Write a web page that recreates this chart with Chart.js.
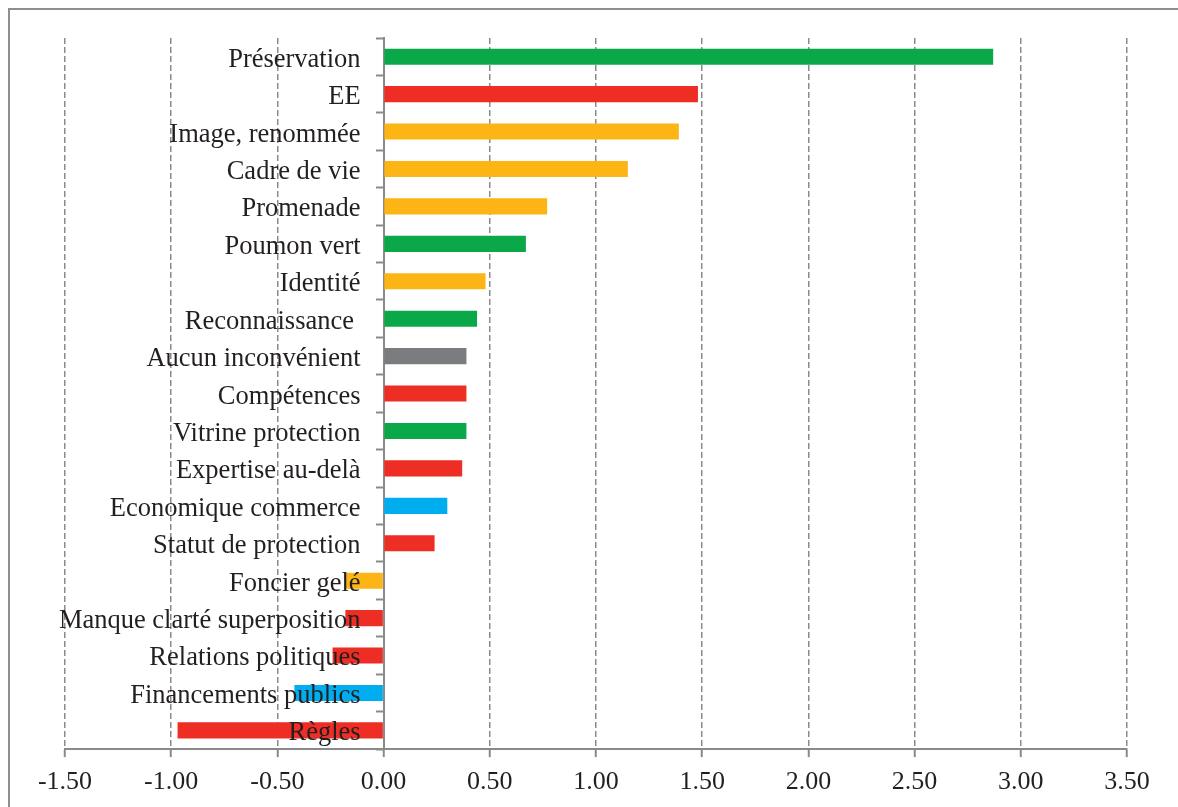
<!DOCTYPE html>
<html>
<head>
<meta charset="utf-8">
<script src="https://cdn.jsdelivr.net/npm/chart.js@4/dist/chart.umd.min.js"></script>
<style>
  html, body { margin: 0; padding: 0; background: #fff; overflow: hidden; }
  #wrap { position: relative; width: 1178px; height: 807px; }
  #frame { position: absolute; left: 8px; top: 8px; width: 1200px; height: 900px; border: 2px solid #8e8e8e; box-sizing: border-box; }
  canvas { position: absolute; left: 0; top: 0; }
</style>
</head>
<body>
<div id="wrap">
  <div id="frame"></div>
  <canvas id="chart" width="1178" height="807"></canvas>
</div>
<script>
const categories = [
  'Préservation', 'EE', 'Image, renommée', 'Cadre de vie', 'Promenade',
  'Poumon vert', 'Identité', 'Reconnaissance ', 'Aucun inconvénient', 'Compétences',
  'Vitrine protection', 'Expertise au-delà', 'Economique commerce', 'Statut de protection', 'Foncier gelé',
  'Manque clarté superposition', 'Relations politiques', 'Financements publics', 'Règles'
];
const values = [
  2.87, 1.48, 1.39, 1.15, 0.77,
  0.67, 0.48, 0.44, 0.39, 0.39,
  0.39, 0.37, 0.30, 0.24, -0.18,
  -0.18, -0.24, -0.42, -0.97
];
const barColors = [
  '#0ba84a', '#ee2e24', '#fdb515', '#fdb515', '#fdb515',
  '#0ba84a', '#fdb515', '#0ba84a', '#7b7c7f', '#ee2e24',
  '#0ba84a', '#ee2e24', '#00aeef', '#ee2e24', '#fdb515',
  '#ee2e24', '#ee2e24', '#00aeef', '#ee2e24'
];
const xMin = -1.5;
const xMax = 3.5;
const xStep = 0.5;

const serif = "'Liberation Serif', 'Times New Roman', serif";
const textColor = '#231f20';
const axisGray = '#8a8a8a';

// category names sit right-aligned just left of the zero line, on top of the bars
const categoryLabels = {
  id: 'categoryLabels',
  afterDatasetsDraw(chart) {
    const { ctx, scales: { x, y } } = chart;
    const right = x.getPixelForValue(0) - 23;
    ctx.save();
    ctx.font = '26.5px ' + serif;
    ctx.fillStyle = textColor;
    ctx.textAlign = 'right';
    ctx.textBaseline = 'middle';
    chart.data.labels.forEach((label, i) => {
      ctx.fillText(label, right, y.getPixelForTick(i) + 3);
    });
    ctx.restore();
  }
};

new Chart(document.getElementById('chart').getContext('2d'), {
  type: 'bar',
  data: {
    labels: categories,
    datasets: [{
      data: values,
      backgroundColor: barColors,
      borderWidth: 0,
      barPercentage: 0.43,
      categoryPercentage: 1
    }]
  },
  options: {
    indexAxis: 'y',
    responsive: false,
    animation: false,
    layout: { padding: { left: 65, right: 51, top: 38, bottom: 0 } },
    scales: {
      x: {
        position: 'bottom',
        min: xMin,
        max: xMax,
        ticks: {
          stepSize: xStep,
          color: textColor,
          font: { family: serif, size: 26, lineHeight: 1.15 },
          padding: 10,
          maxRotation: 0,
          callback: v => Number(v).toFixed(2)
        },
        grid: {
          color: axisGray,
          lineWidth: 1.5,
          tickLength: 8,
          tickColor: axisGray,
          tickWidth: 2
        },
        border: { color: axisGray, width: 2, dash: [6, 3] }
      },
      y: {
        position: { x: 0 },
        afterFit: scale => { scale.width = 0; },
        ticks: { display: false },
        grid: {
          drawOnChartArea: false,
          tickLength: 7,
          tickColor: axisGray,
          tickWidth: 2
        },
        border: { color: axisGray, width: 2 }
      }
    },
    plugins: {
      legend: { display: false },
      tooltip: { enabled: false }
    }
  },
  plugins: [categoryLabels]
});
</script>
</body>
</html>
